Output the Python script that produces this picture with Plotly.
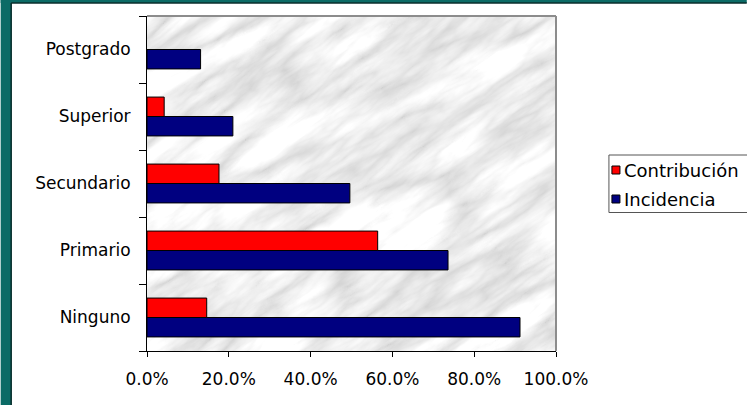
import base64
import plotly.graph_objects as go

# ---- data ----
categories = ["Ninguno", "Primario", "Secundario", "Superior", "Postgrado"]
incidencia = [0.912, 0.736, 0.496, 0.210, 0.131]
contribucion = [0.146, 0.564, 0.176, 0.042, None]
series_names = ["Contribución", "Incidencia"]
x_ticks = [0, 0.2, 0.4, 0.6, 0.8, 1.0]

RED = "#FF0000"
NAVY = "#000080"
TEAL = "#0b6b66"
FONT = "DejaVu Sans"
FS = 17

W, H = 747, 405
L, R, T, B = 146.5, 191, 16, 54
PW = W - L - R
PH = H - T - B


def px_x(px):
    return (px - L) / PW


def px_y(py):
    return (H - B - py) / PH


# marble-like texture for the plot background (style only)
svg = f"""<svg xmlns='http://www.w3.org/2000/svg' width='{int(PW)}' height='{int(PH)}'>
<defs>
<filter id='m' x='0' y='0' width='100%' height='100%'>
<feTurbulence type='turbulence' baseFrequency='0.007 0.028' numOctaves='5' seed='7' result='t'/>
<feColorMatrix in='t' type='matrix' values='0.75 0 0 0 0.64  0.75 0 0 0 0.64  0.75 0 0 0 0.64  0 0 0 0 1'/>
</filter>
</defs>
<rect width='100%' height='100%' fill='#e4e4e4'/>
<g transform='rotate(-35 {PW/2} {PH/2})'>
<rect x='-300' y='-300' width='{PW+600}' height='{PH+600}' filter='url(#m)'/>
</g>
</svg>"""
src = "data:image/svg+xml;base64," + base64.b64encode(svg.encode()).decode()

fig = go.Figure()
fig.add_trace(go.Bar(y=categories, x=incidencia, name=series_names[1], orientation="h",
                     marker=dict(color=NAVY, line=dict(color="black", width=1)), showlegend=False))
fig.add_trace(go.Bar(y=categories, x=contribucion, name=series_names[0], orientation="h",
                     marker=dict(color=RED, line=dict(color="black", width=1)), showlegend=False))

shapes = [
    # teal frame
    dict(type="rect", xref="paper", yref="paper", x0=px_x(0), x1=px_x(11), y0=px_y(H), y1=px_y(0),
         fillcolor=TEAL, line=dict(width=0), layer="above"),
    dict(type="rect", xref="paper", yref="paper", x0=px_x(0), x1=px_x(W), y0=px_y(3), y1=px_y(0),
         fillcolor=TEAL, line=dict(width=0), layer="above"),
    dict(type="line", xref="paper", yref="paper", x0=px_x(10.5), x1=px_x(10.5), y0=px_y(H), y1=px_y(3),
         line=dict(color="#0a2e2c", width=1.5), layer="above"),
    dict(type="line", xref="paper", yref="paper", x0=px_x(10.5), x1=px_x(W), y0=px_y(3), y1=px_y(3),
         line=dict(color="#0a2e2c", width=1.5), layer="above"),
    # grey plot border (top & right)
    dict(type="line", xref="paper", yref="paper", x0=0, x1=1, y0=1, y1=1,
         line=dict(color="#8c8c8c", width=2), layer="above"),
    dict(type="line", xref="paper", yref="paper", x0=1, x1=1, y0=0, y1=1,
         line=dict(color="#8c8c8c", width=2), layer="above"),
    # legend box
    dict(type="rect", xref="paper", yref="paper", x0=px_x(609), x1=px_x(760), y0=px_y(212.5), y1=px_y(155),
         fillcolor="white", line=dict(color="#555555", width=1), layer="above"),
    dict(type="rect", xref="paper", yref="paper", x0=px_x(612), x1=px_x(620), y0=px_y(174), y1=px_y(166),
         fillcolor=RED, line=dict(color="black", width=1), layer="above"),
    dict(type="rect", xref="paper", yref="paper", x0=px_x(612), x1=px_x(620), y0=px_y(203), y1=px_y(195),
         fillcolor=NAVY, line=dict(color="black", width=1), layer="above"),
]

annotations = [
    dict(text=series_names[0], xref="paper", yref="paper", x=px_x(622), y=px_y(170),
         xanchor="left", yanchor="middle", showarrow=False, font=dict(family=FONT, size=18, color="black")),
    dict(text=series_names[1], xref="paper", yref="paper", x=px_x(622), y=px_y(199),
         xanchor="left", yanchor="middle", showarrow=False, font=dict(family=FONT, size=18, color="black")),
]

fig.update_layout(
    width=W, height=H,
    margin=dict(l=L, r=R, t=T, b=B, pad=0),
    paper_bgcolor="white",
    plot_bgcolor="#e2e2e2",
    barmode="group",
    bargap=0.42,
    bargroupgap=0,
    font=dict(family=FONT, size=FS, color="black"),
    shapes=shapes,
    annotations=annotations,
    images=[dict(source=src, xref="paper", yref="paper", x=0, y=1, sizex=1, sizey=1,
                 sizing="stretch", xanchor="left", yanchor="top", layer="below")],
    xaxis=dict(range=[0, 1], tickvals=x_ticks, tickformat=".1%", showgrid=False, zeroline=False,
               showline=True, linecolor="black", linewidth=1, ticks="outside", ticklen=5,
               tickcolor="black", ticklabelstandoff=8, fixedrange=True),
    yaxis=dict(categoryorder="array", categoryarray=categories, showgrid=False, zeroline=False,
               showline=True, linecolor="black", linewidth=1, ticks="outside", ticklen=7,
               tickcolor="black", tickson="boundaries", ticklabelstandoff=12, fixedrange=True),
)

fig.write_html("out.html")
